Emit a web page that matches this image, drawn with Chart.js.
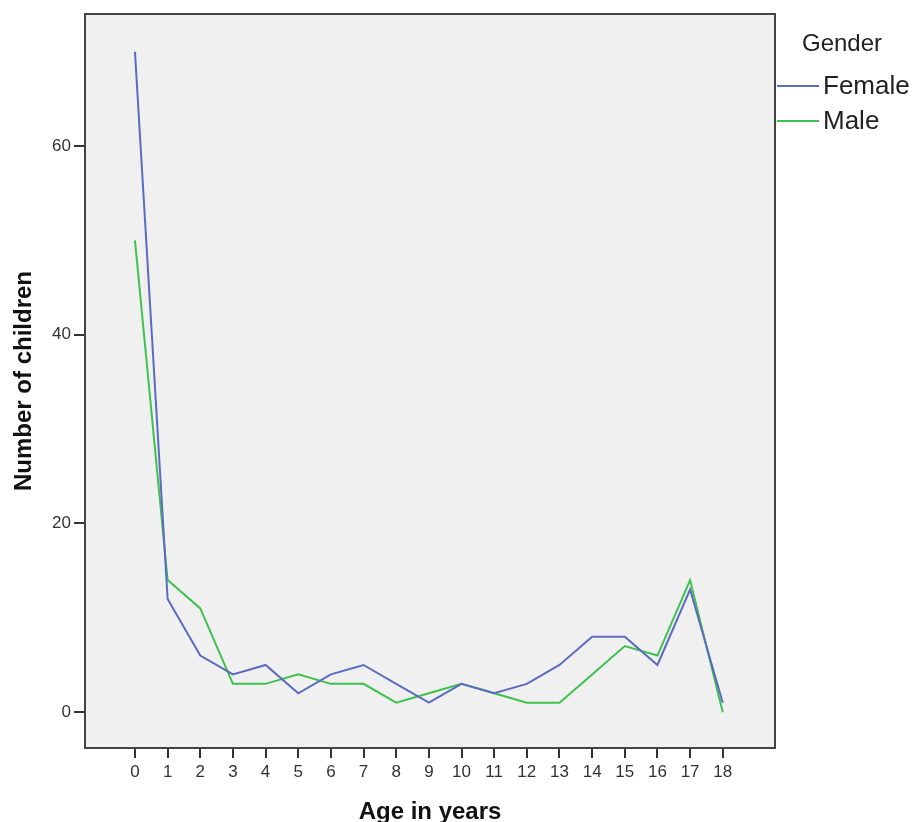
<!DOCTYPE html>
<html>
<head>
<meta charset="utf-8">
<script src="https://cdn.jsdelivr.net/npm/chart.js@4/dist/chart.umd.min.js"></script>
<style>
  body { margin: 0; background: #fff; }
  #wrap { position: relative; width: 914px; height: 822px; overflow: hidden; }
  #legend { position: absolute; left: 777px; top: 29px; font-family: "Liberation Sans", Arial, sans-serif; color: #222; }
  #legend .title { font-size: 24px; margin-left: 25px; margin-bottom: 11px; }
  #legend .item { display: flex; align-items: center; font-size: 26px; height: 35px; }
  #legend .swatch { width: 42px; height: 0; border-top: 2px solid; margin-right: 4px; }
</style>
</head>
<body>
<div id="wrap">
  <canvas id="line-graph" width="914" height="822"></canvas>
  <div id="legend"></div>
</div>
<script>
// 年齢
const ages = [0, 1, 2, 3, 4, 5, 6, 7, 8, 9, 10, 11, 12, 13, 14, 15, 16, 17, 18];
// 女性
const female = [70, 12, 6, 4, 5, 2, 4, 5, 3, 1, 3, 2, 3, 5, 8, 8, 5, 13, 1];
// 男性
const male = [50, 14, 11, 3, 3, 4, 3, 3, 1, 2, 3, 2, 1, 1, 4, 7, 6, 14, 0];
const yTicks = [0, 20, 40, 60];
const seriesNames = ["Female", "Male"];
const seriesColors = ["#5b6cc0", "#3fc14d"];

function lineGraph() {
  const graphId = document.getElementById("line-graph");

  // 背景と枠線
  const plotBox = {
    id: 'plotBox',
    beforeDatasetsDraw(chart) {
      const { ctx, chartArea: a } = chart;
      ctx.save();
      ctx.fillStyle = '#f0f0f0';
      ctx.fillRect(a.left, a.top, a.right - a.left, a.bottom - a.top);
      ctx.restore();
    },
    afterDatasetsDraw(chart) {
      const { ctx, chartArea: a } = chart;
      ctx.save();
      ctx.strokeStyle = '#444';
      ctx.lineWidth = 2;
      ctx.strokeRect(a.left, a.top, a.right - a.left, a.bottom - a.top);
      ctx.restore();
    }
  };

  const toPoints = arr => ages.map((a, i) => ({ x: a, y: arr[i] }));
  const tickFont = { family: '"Liberation Sans", Arial, sans-serif', size: 17 };
  const titleFont = { family: '"Liberation Sans", Arial, sans-serif', size: 24, weight: 'bold' };

  new Chart(graphId, {
    type: 'line',
    data: {
      datasets: [
        { label: seriesNames[0], data: toPoints(female), borderColor: seriesColors[0], borderWidth: 2, pointRadius: 0, tension: 0 },
        { label: seriesNames[1], data: toPoints(male), borderColor: seriesColors[1], borderWidth: 2, pointRadius: 0, tension: 0 }
      ]
    },
    options: {
      responsive: false,
      animation: false,
      layout: { padding: { top: 14, right: 139, left: 0, bottom: 0 } },
      plugins: { legend: { display: false }, tooltip: { enabled: false } },
      scales: {
        x: {
          type: 'linear',
          min: -1.53,
          max: 19.6,
          afterBuildTicks(scale) { scale.ticks = ages.map(v => ({ value: v })); },
          afterFit(scale) { scale.height = 74; },
          grid: { drawOnChartArea: false, drawTicks: true, tickLength: 10, color: '#333', lineWidth: 2 },
          border: { display: false },
          ticks: { color: '#333', padding: 4, maxRotation: 0, autoSkip: false, font: tickFont },
          title: { display: true, text: 'Age in years', color: '#111', padding: { top: 0, bottom: -2 }, font: Object.assign({ lineHeight: 1 }, titleFont) }
        },
        y: {
          min: -3.8,
          max: 74,
          afterBuildTicks(scale) { scale.ticks = yTicks.map(v => ({ value: v })); },
          afterFit(scale) { scale.width = 85; },
          grid: { drawOnChartArea: false, drawTicks: true, tickLength: 11, color: '#333', lineWidth: 2 },
          border: { display: false },
          ticks: { color: '#333', padding: 3, font: tickFont },
          title: { display: true, text: 'Number of children', color: '#111', padding: { top: 10, bottom: 0 }, font: Object.assign({ lineHeight: 1.2 }, titleFont) }
        }
      }
    },
    plugins: [plotBox]
  });

  // 凡例
  const legend = document.getElementById("legend");
  let html = '<div class="title">Gender</div>';
  seriesNames.forEach((name, i) => {
    html += '<div class="item"><span class="swatch" style="border-color:' + seriesColors[i] + '"></span>' + name + '</div>';
  });
  legend.innerHTML = html;
}

window.addEventListener('load', lineGraph);
</script>
</body>
</html>
